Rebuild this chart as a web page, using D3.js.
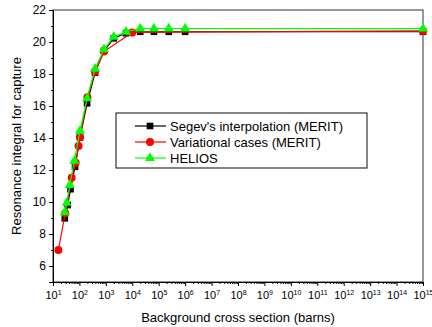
<!DOCTYPE html>
<html>
<head>
<meta charset="utf-8">
<script src="https://cdn.jsdelivr.net/npm/d3@7"></script>
<style>
  body { margin: 0; background: #fff; }
  svg { font-family: "Liberation Sans", Arial, sans-serif; }
</style>
</head>
<body>
<svg id="chart" width="432" height="327"></svg>
<script>
// data
const segevX = [28, 36, 46, 68, 105, 195, 390, 850, 2000, 5800, 2e4, 6.6e4, 2.4e5, 1e6, 1e15];
const segevY = [8.98, 9.81, 10.8, 12.2, 14.04, 16.17, 18.08, 19.45, 20.23, 20.55, 20.64, 20.64, 20.64, 20.64, 20.64];
const varX = [16, 29, 51, 72, 93, 105, 200, 390, 850, 1e4, 1e15];
const varY = [7.0, 9.3, 11.52, 12.45, 13.5, 14.05, 16.55, 18.15, 19.4, 20.6, 20.69];
const heliosX = [28, 33, 43, 64, 105, 195, 390, 850, 2000, 5800, 2e4, 6.6e4, 2.4e5, 1e6, 1e15];
const heliosY = [9.35, 9.95, 11.06, 12.58, 14.45, 16.48, 18.33, 19.54, 20.33, 20.64, 20.84, 20.84, 20.84, 20.84, 20.84];

const seriesNames = ["Segev's interpolation (MERIT)", "Variational cases (MERIT)", "HELIOS"];
const xDecades = d3.range(1, 16);          // exponents 1..15
const yTicks = [6, 8, 10, 12, 14, 16, 18, 20, 22];

const svg = d3.select('#chart');
const pLeft = 53, pRight = 423, pTop = 10, pBottom = 282;

// scales
const x = d3.scaleLog().domain([10, 1e15]).range([pLeft, pRight]);
const y = d3.scaleLinear().domain([5, 22]).range([pBottom, pTop]);

// frame
svg.append('rect')
  .attr('x', pLeft).attr('y', pTop)
  .attr('width', pRight - pLeft).attr('height', pBottom - pTop)
  .attr('fill', 'none').attr('stroke', '#333').attr('stroke-width', 1);

// x axis, major ticks
const xAxis = svg.append('g')
  .attr('transform', `translate(0,${pBottom})`)
  .call(d3.axisBottom(x).tickValues(xDecades.map(e => Math.pow(10, e))).tickSize(4).tickFormat(''));
xAxis.select('.domain').attr('stroke', '#000');

xAxis.selectAll('.tick text')
  .attr('y', 9)
  .attr('font-size', 11)
  .attr('fill', '#000')
  .each(function(d, i) {
    const t = d3.select(this);
    t.append('tspan').text('10');
    t.append('tspan').attr('dy', -4).attr('font-size', 7).text(xDecades[i]);
  });

// x axis, minor ticks
const minorX = [];
xDecades.slice(0, -1).forEach(e => { for (let m = 2; m <= 9; m++) minorX.push(m * Math.pow(10, e)); });
svg.append('g')
  .attr('transform', `translate(0,${pBottom})`)
  .call(d3.axisBottom(x).tickValues(minorX).tickSize(2).tickFormat(''))
  .select('.domain').remove();

// y axis
const yAxis = svg.append('g')
  .attr('transform', `translate(${pLeft},0)`)
  .call(d3.axisLeft(y).tickValues(yTicks).tickSize(4).tickPadding(3));
yAxis.select('.domain').attr('stroke', '#000');
yAxis.selectAll('.tick text').attr('font-size', 12).attr('fill', '#000');

svg.append('g')
  .attr('transform', `translate(${pLeft},0)`)
  .call(d3.axisLeft(y).tickValues([5, 7, 9, 11, 13, 15, 17, 19, 21]).tickSize(2).tickFormat(''))
  .select('.domain').remove();

// axis titles
svg.append('text')
  .attr('x', (pLeft + pRight) / 2).attr('y', 322)
  .attr('text-anchor', 'middle').attr('font-size', 13)
  .text('Background cross section (barns)');

svg.append('text')
  .attr('transform', `translate(21,${(pTop + pBottom) / 2}) rotate(-90)`)
  .attr('text-anchor', 'middle').attr('font-size', 13)
  .text('Resonance integral for capture');

// series
const series = [
  {xs: segevX, ys: segevY, color: '#000000', marker: d3.symbolSquare, size: 44},
  {xs: varX, ys: varY, color: '#ff0000', marker: d3.symbolCircle, size: 50},
  {xs: heliosX, ys: heliosY, color: '#00ff00', marker: d3.symbolTriangle, size: 44}
];

const line = d3.line().x(d => x(d[0])).y(d => y(d[1]));

series.forEach(s => {
  const pts = s.xs.map((v, i) => [v, s.ys[i]]);
  svg.append('path')
    .datum(pts)
    .attr('d', line)
    .attr('fill', 'none')
    .attr('stroke', s.color)
    .attr('stroke-width', 1.2);
  svg.append('g').selectAll('path')
    .data(pts)
    .enter()
    .append('path')
    .attr('transform', d => `translate(${x(d[0])},${y(d[1])})`)
    .attr('d', d3.symbol().type(s.marker).size(s.size))
    .attr('fill', s.color);
});

// legend
const legend = svg.append('g');
legend.append('rect')
  .attr('x', 116).attr('y', 113)
  .attr('width', 251).attr('height', 55)
  .attr('fill', '#fff').attr('stroke', '#333').attr('stroke-width', 1.2);

series.forEach((s, i) => {
  const ly = 126 + i * 16;
  legend.append('line')
    .attr('x1', 135).attr('x2', 166).attr('y1', ly).attr('y2', ly)
    .attr('stroke', s.color).attr('stroke-width', 1.2);
  legend.append('path')
    .attr('transform', `translate(150,${ly})`)
    .attr('d', d3.symbol().type(s.marker).size(s.size))
    .attr('fill', s.color);
  legend.append('text')
    .attr('x', 170).attr('y', ly + 4.5)
    .attr('font-size', 13)
    .text(seriesNames[i]);
});
</script>
</body>
</html>
